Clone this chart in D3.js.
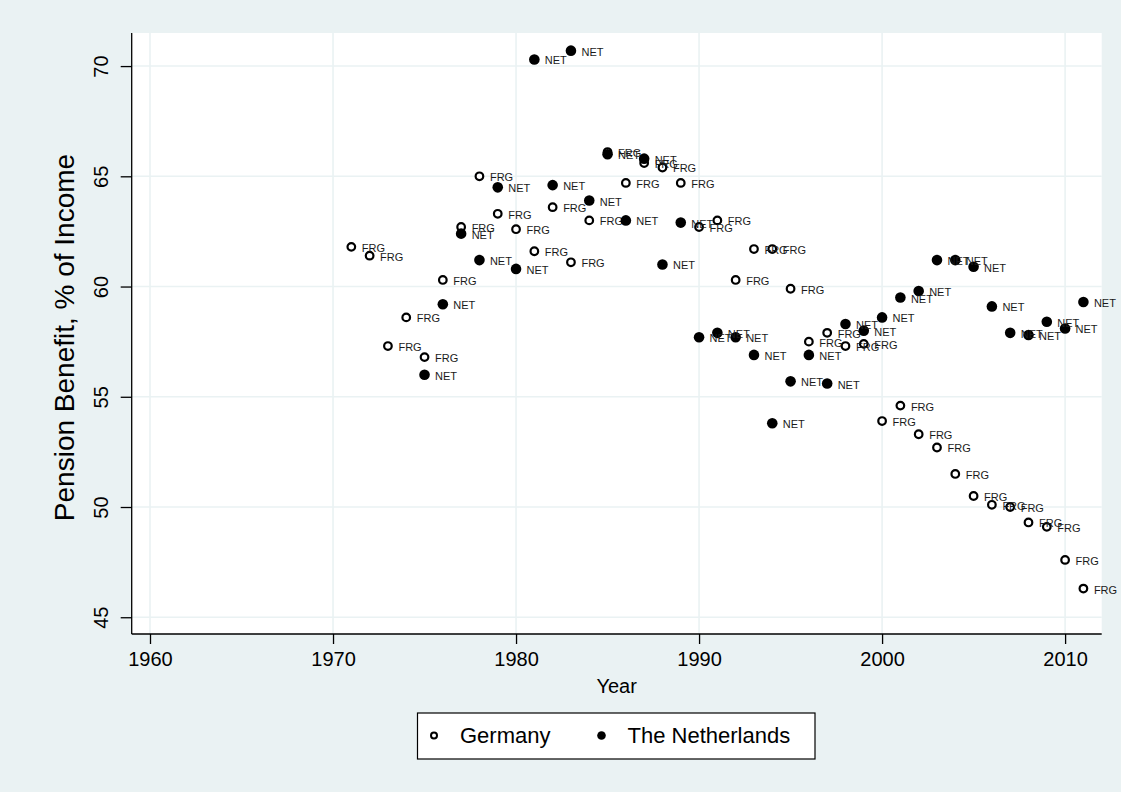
<!DOCTYPE html>
<html>
<head>
<meta charset="utf-8">
<script src="https://cdn.jsdelivr.net/npm/d3@7"></script>
<style>
  html, body { margin: 0; padding: 0; background: #EAF2F3; }
  svg { display: block; font-family: "Liberation Sans", Arial, Helvetica, sans-serif; }
</style>
</head>
<body>
<script>
// ---- Data ----
const germanyYears = [1971,1972,1973,1974,1975,1976,1977,1978,1979,1980,1981,1982,1983,1984,1985,1986,1987,1988,1989,1990,1991,1992,1993,1994,1995,1996,1997,1998,1999,2000,2001,2002,2003,2004,2005,2006,2007,2008,2009,2010,2011];
const germanyValues = [61.8,61.4,57.3,58.6,56.8,60.3,62.7,65.0,63.3,62.6,61.6,63.6,61.1,63.0,66.1,64.7,65.6,65.4,64.7,62.7,63.0,60.3,61.7,61.7,59.9,57.5,57.9,57.3,57.4,53.9,54.6,53.3,52.7,51.5,50.5,50.1,50.0,49.3,49.1,47.6,46.3];
const germanyLabel = "FRG";

const netherlandsYears = [1975,1976,1977,1978,1979,1980,1981,1982,1983,1984,1985,1986,1987,1988,1989,1990,1991,1992,1993,1994,1995,1996,1997,1998,1999,2000,2001,2002,2003,2004,2005,2006,2007,2008,2009,2010,2011];
const netherlandsValues = [56.0,59.2,62.4,61.2,64.5,60.8,70.3,64.6,70.7,63.9,66.0,63.0,65.8,61.0,62.9,57.7,57.9,57.7,56.9,53.8,55.7,56.9,55.6,58.3,58.0,58.6,59.5,59.8,61.2,61.2,60.9,59.1,57.9,57.8,58.4,58.1,59.3];
const netherlandsLabel = "NET";

const xTicks = [1960,1970,1980,1990,2000,2010];
const yTicks = [45,50,55,60,65,70];
const seriesNames = ["Germany","The Netherlands"];
const xTitle = "Year";
const yTitle = "Pension Benefit, % of Income";

// ---- Layout ----
const W = 1121, H = 792;
const plot = { left: 131.7, right: 1101.7, top: 33, bottom: 634 };
const bg = "#EAF2F3";

const svg = d3.select("body").append("svg").attr("width", W).attr("height", H);
svg.append("rect").attr("width", W).attr("height", H).attr("fill", bg);

const x = d3.scaleLinear().domain([1959, 2012]).range([plot.left, plot.right]);
const y = d3.scaleLinear().domain([44.24, 71.5]).range([plot.bottom, plot.top]);

// plot region
svg.append("rect")
  .attr("x", plot.left).attr("y", plot.top)
  .attr("width", plot.right - plot.left).attr("height", plot.bottom - plot.top)
  .attr("fill", "#fff");

// gridlines
const grid = svg.append("g");
grid.selectAll("line.gx").data(xTicks).join("line")
  .attr("x1", d => x(d)).attr("x2", d => x(d))
  .attr("y1", plot.top).attr("y2", plot.bottom)
  .attr("stroke", bg).attr("stroke-width", 1.6);
grid.selectAll("line.gy").data(yTicks).join("line")
  .attr("y1", d => y(d)).attr("y2", d => y(d))
  .attr("x1", plot.left).attr("x2", plot.right)
  .attr("stroke", bg).attr("stroke-width", 1.6);

// axes
const xAxis = svg.append("g")
  .attr("transform", `translate(0,${plot.bottom})`)
  .call(d3.axisBottom(x).tickValues(xTicks).tickFormat(d3.format("d")).tickSize(10).tickPadding(8).tickSizeOuter(0));
xAxis.select(".domain").attr("stroke", "#000").attr("stroke-width", 1.3)
  .attr("d", `M${plot.left},0H${plot.right}`);
xAxis.selectAll(".tick line").attr("stroke", "#000").attr("stroke-width", 1.3);
xAxis.selectAll(".tick text").attr("fill", "#000").attr("font-size", 20)
  .attr("font-family", "'Liberation Sans', Arial, sans-serif");

const yAxis = svg.append("g")
  .attr("transform", `translate(${plot.left},0)`)
  .call(d3.axisLeft(y).tickValues(yTicks).tickFormat(d3.format("d")).tickSize(11).tickPadding(8).tickSizeOuter(0));
yAxis.select(".domain").attr("stroke", "#000").attr("stroke-width", 1.3)
  .attr("d", `M0,${plot.top}V${plot.bottom}`);
yAxis.selectAll(".tick line").attr("stroke", "#000").attr("stroke-width", 1.3);
yAxis.selectAll(".tick text")
  .attr("fill", "#000").attr("font-size", 20)
  .attr("font-family", "'Liberation Sans', Arial, sans-serif")
  .attr("x", null).attr("dy", null)
  .attr("text-anchor", "middle")
  .attr("dominant-baseline", "central")
  .attr("transform", "translate(-31,0) rotate(-90)");

// axis titles
svg.append("text")
  .attr("x", (plot.left + plot.right) / 2).attr("y", 686)
  .attr("text-anchor", "middle").attr("dominant-baseline", "central")
  .attr("font-size", 20).attr("fill", "#000").text(xTitle);
svg.append("text")
  .attr("transform", `translate(64,${(plot.top + plot.bottom) / 2 + 4}) rotate(-90)`)
  .attr("text-anchor", "middle").attr("dominant-baseline", "central")
  .attr("font-size", 28).attr("fill", "#000").text(yTitle);

// series
const germany = germanyYears.map((yr, i) => ({ year: yr, value: germanyValues[i] }));
const netherlands = netherlandsYears.map((yr, i) => ({ year: yr, value: netherlandsValues[i] }));

function drawSeries(data, filled, label) {
  const g = svg.append("g");
  g.selectAll("circle").data(data).join("circle")
    .attr("cx", d => x(d.year)).attr("cy", d => y(d.value))
    .attr("r", filled ? 5.3 : 3.8)
    .attr("fill", filled ? "#000" : "#fff")
    .attr("stroke", "#000")
    .attr("stroke-width", filled ? 0 : 2.2);
  g.selectAll("text").data(data).join("text")
    .attr("x", d => x(d.year) + 10.5).attr("y", d => y(d.value) + 1)
    .attr("dominant-baseline", "central")
    .attr("font-size", 11).attr("fill", "#1a1a1a")
    .text(label);
}
drawSeries(germany, false, germanyLabel);
drawSeries(netherlands, true, netherlandsLabel);

// legend
const leg = svg.append("g");
leg.append("rect").attr("x", 417.5).attr("y", 713).attr("width", 397.5).attr("height", 46)
  .attr("fill", "#fff").attr("stroke", "#000").attr("stroke-width", 1.2);
const legY = 735.5;
leg.append("circle").attr("cx", 434).attr("cy", legY).attr("r", 3).attr("fill", "#fff")
  .attr("stroke", "#000").attr("stroke-width", 2);
leg.append("text").attr("x", 460).attr("y", legY).attr("dominant-baseline", "central")
  .attr("font-size", 22).attr("fill", "#000").text(seriesNames[0]);
leg.append("circle").attr("cx", 601.5).attr("cy", legY).attr("r", 4.3).attr("fill", "#000");
leg.append("text").attr("x", 627.5).attr("y", legY).attr("dominant-baseline", "central")
  .attr("font-size", 22).attr("fill", "#000").text(seriesNames[1]);
</script>
</body>
</html>
